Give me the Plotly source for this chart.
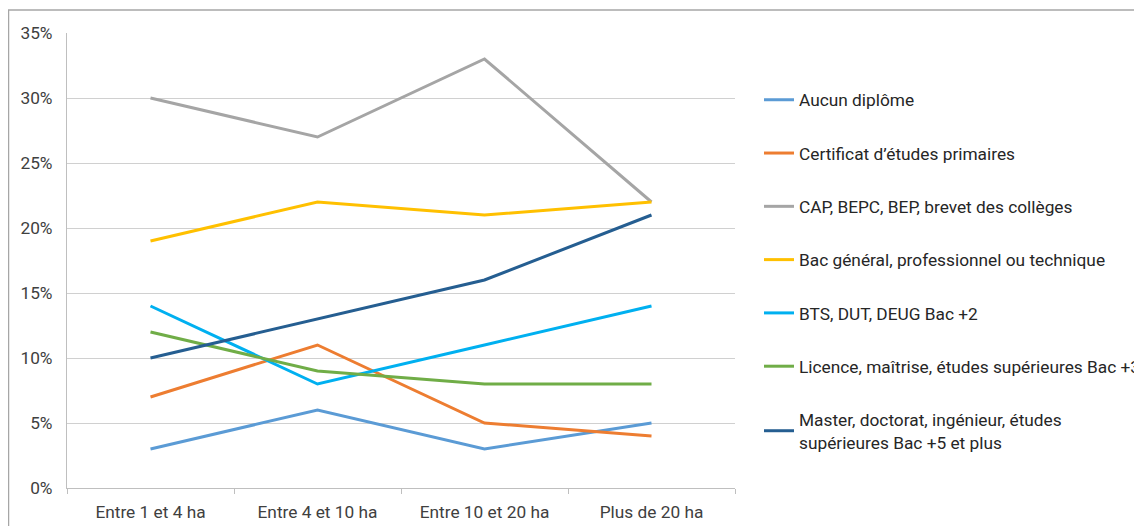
import plotly.graph_objects as go

categories = ["Entre 1 et 4 ha", "Entre 4 et 10 ha", "Entre 10 et 20 ha", "Plus de 20 ha"]
series_names = [
    "Aucun diplôme",
    "Certificat d’études primaires",
    "CAP, BEPC, BEP, brevet des collèges",
    "Bac général, professionnel ou technique",
    "BTS, DUT, DEUG Bac +2",
    "Licence, maîtrise, études supérieures Bac +3",
    "Master, doctorat, ingénieur, études<br>supérieures Bac +5 et plus",
]
aucun = [0.03, 0.06, 0.03, 0.05]
certificat = [0.07, 0.11, 0.05, 0.04]
cap = [0.30, 0.27, 0.33, 0.22]
bac = [0.19, 0.22, 0.21, 0.22]
bts = [0.14, 0.08, 0.11, 0.14]
licence = [0.12, 0.09, 0.08, 0.08]
master = [0.10, 0.13, 0.16, 0.21]
values = [aucun, certificat, cap, bac, bts, licence, master]
colors = ["#5B9BD5", "#ED7D31", "#A5A5A5", "#FFC000", "#00B0F0", "#70AD47", "#255E91"]
y_ticks = [0, 0.05, 0.10, 0.15, 0.20, 0.25, 0.30, 0.35]

fig = go.Figure()
for i, (name, vals, col) in enumerate(zip(series_names, values, colors)):
    fig.add_trace(go.Scatter(
        x=categories, y=vals, name=name, mode="lines",
        line=dict(color=col, width=3), legendgroup=f"g{i}",
    ))

W, H = 1142, 526
ml, mr, mt, mb = 59, 415, 25, 46
pw = W - ml - mr
ph = H - mt - mb

fig.update_layout(
    width=W, height=H,
    margin=dict(l=ml, r=mr, t=mt, b=mb, autoexpand=False),
    paper_bgcolor="white", plot_bgcolor="white",
    font=dict(family="Roboto", size=17.3, color="#404040"),
    showlegend=True,
    legend=dict(
        x=(751 - ml) / pw, y=(H - mb - 74) / ph, xanchor="left", yanchor="top",
        traceorder="grouped", tracegroupgap=27.8,
        font=dict(family="Roboto", size=17.3, color="#262626"),
        bgcolor="rgba(0,0,0,0)", itemwidth=30,
    ),
    xaxis=dict(
        type="category", range=[-0.5, 3.5], showline=True, linecolor="#BFBFBF", linewidth=1,
        ticks="outside", tickson="boundaries", ticklen=5, tickcolor="#BFBFBF",
        showgrid=False, tickfont=dict(size=17.3, color="#404040"), fixedrange=True,
        ticklabelstandoff=8,
    ),
    yaxis=dict(
        range=[0, 0.35], tickvals=y_ticks, tickformat=".0%", showgrid=True,
        gridcolor="#D0D0D0", gridwidth=1, showline=True, linecolor="#BFBFBF",
        zeroline=False, ticks="", ticklabelstandoff=10,
        tickfont=dict(size=17.3, color="#404040"),
    ),
    shapes=[dict(
        type="rect", xref="paper", yref="paper",
        x0=(0.5 - ml) / pw, x1=(W + 5 - ml) / pw,
        y0=-(mb + 10) / ph, y1=(H - mb - 2) / ph,
        line=dict(color="#A6A6A6", width=1.5), fillcolor="rgba(0,0,0,0)", layer="below",
    )],
)

fig.write_html("out.html")
